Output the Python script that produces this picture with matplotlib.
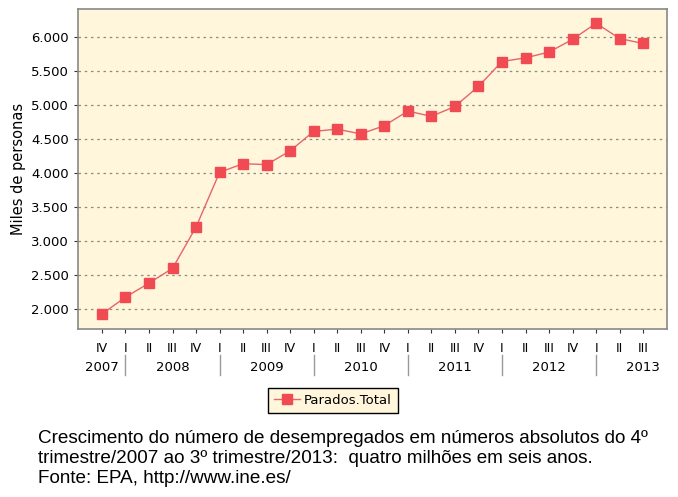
import matplotlib.pyplot as plt
from matplotlib.ticker import FuncFormatter
import matplotlib.transforms as mtransforms

quarters = ["IV", "I", "II", "III", "IV", "I", "II", "III", "IV", "I", "II", "III",
            "IV", "I", "II", "III", "IV", "I", "II", "III", "IV", "I", "II", "III"]
parados = [1927, 2174, 2381, 2598, 3207, 4010, 4137, 4123, 4327, 4612, 4645, 4574,
           4696, 4910, 4833, 4978, 5273, 5639, 5693, 5778, 5965, 6202, 5977, 5904]
years = ["2007", "2008", "2009", "2010", "2011", "2012", "2013"]
year_centers = [0, 3, 7, 11, 15, 19, 23]
year_breaks = [1, 5, 9, 13, 17, 21]

BG = "#FFF6DC"
RED = "#F04A52"

fig = plt.figure(figsize=(6.78, 4.97), dpi=100)
ax = fig.add_axes([0.115, 0.338, 0.869, 0.644])
ax.set_facecolor(BG)

x = list(range(len(parados)))
ax.plot(x, parados, color="#E8646A", linewidth=1.0, marker="s", markersize=7,
        markerfacecolor=RED, markeredgecolor=RED, label="Parados.Total", zorder=3)

ax.set_xlim(-1.02, 24.02)
ax.set_ylim(1706, 6412)
ax.set_yticks([2000, 2500, 3000, 3500, 4000, 4500, 5000, 5500, 6000])
ax.yaxis.set_major_formatter(FuncFormatter(lambda v, p: f"{int(v):,}".replace(",", ".")))
ax.grid(axis="y", color="#8C8C7C", linestyle=(0, (2, 3)), linewidth=0.9)
ax.set_axisbelow(True)

ax.set_xticks(x)
ax.set_xticklabels(quarters)
ax.tick_params(axis="x", length=3, pad=6, colors="#333333", labelsize=9)
ax.tick_params(axis="y", length=3, colors="#333333", labelsize=9.5)
for lbl in ax.get_xticklabels() + ax.get_yticklabels():
    lbl.set_color("black")

for s in ax.spines.values():
    s.set_color("#888888")
    s.set_linewidth(1.2)

ax.set_ylabel("Miles de personas", fontsize=10.5, labelpad=4)

trans = mtransforms.blended_transform_factory(ax.transData, ax.transAxes)
for c, yr in zip(year_centers, years):
    ax.text(c, -0.119, yr, transform=trans, ha="center", va="center", fontsize=9.5)
for b in year_breaks:
    ax.plot([b, b], [-0.08, -0.145], transform=trans, color="#999999",
            linewidth=1.0, clip_on=False)

leg = fig.legend(loc="center", bbox_to_anchor=(0.491, 0.195), fontsize=9.5,
                 fancybox=False, framealpha=1, edgecolor="black",
                 handlelength=2.0, borderpad=0.45, handletextpad=0.3)
leg.get_frame().set_facecolor(BG)
leg.get_frame().set_linewidth(1.0)

caption = ("Crescimento do número de desempregados em números absolutos do 4º\n"
           "trimestre/2007 ao 3º trimestre/2013:  quatro milhões em seis anos.\n"
           "Fonte: EPA, http://www.ine.es/")
fig.text(0.056, 0.135, caption, ha="left", va="top", fontsize=13.6,
         family="Liberation Sans", linespacing=1.22)

fig.savefig("out.png", dpi=100)
